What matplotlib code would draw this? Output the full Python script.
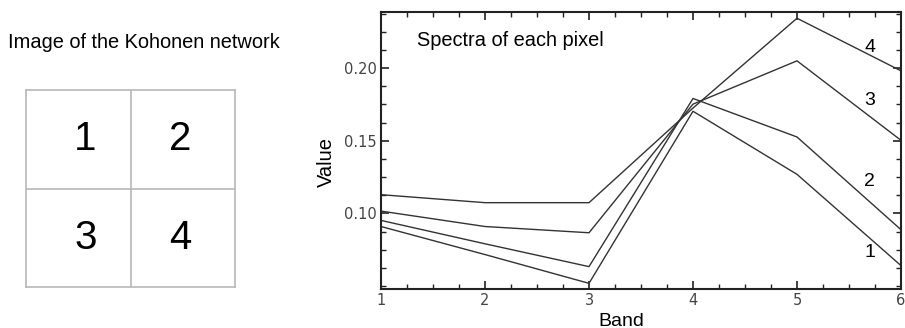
import matplotlib.pyplot as plt
from matplotlib.ticker import MultipleLocator

# spectra (band 1..6)
bands = [1, 2, 3, 4, 5, 6]
pixel1 = [0.091, 0.0717, 0.0519, 0.1703, 0.1269, 0.0641]
pixel2 = [0.0952, 0.0791, 0.0634, 0.1791, 0.1526, 0.0888]
pixel3 = [0.1016, 0.091, 0.0867, 0.1752, 0.2050, 0.1503]
pixel4 = [0.1129, 0.1074, 0.1074, 0.1725, 0.2343, 0.1981]
spectra = [pixel1, pixel2, pixel3, pixel4]
names = ["1", "2", "3", "4"]
name_y = [0.073, 0.122, 0.178, 0.2145]

plt.rcParams['font.family'] = ['Liberation Sans', 'DejaVu Sans']
fig = plt.figure(figsize=(9.05, 3.28), dpi=100)

# left: kohonen map
fig.text(8 / 905, 1 - 43 / 328, "Image of the Kohonen network", fontsize=14.4, va='center')
ax0 = fig.add_axes([26 / 905, 1 - 287 / 328, 209 / 905, 197 / 328])
ax0.set_xlim(0, 2)
ax0.set_ylim(0, 2)
ax0.set_xticks([])
ax0.set_yticks([])
for s in ax0.spines.values():
    s.set_color('#b8b8b8')
    s.set_linewidth(1.2)
ax0.axvline(1, color='#b8b8b8', lw=1.2)
ax0.axhline(1, color='#b8b8b8', lw=1.2)
cells = [(0.57, 1.5), (1.48, 1.5), (0.57, 0.5), (1.48, 0.5)]
for (cx, cy), n in zip(cells, names):
    ax0.text(cx, cy, n, fontsize=29, ha='center', va='center')

# right: spectra
ax = fig.add_axes([381 / 905, 1 - 289 / 328, 520 / 905, 277 / 328])
for vals in spectra:
    ax.plot(bands, vals, color='#333333', lw=1.0)
for n, y in zip(names, name_y):
    ax.text(5.7, y, n, fontsize=14, ha='center', va='center')
ax.text(1.35, 0.2193, "Spectra of each pixel", fontsize=14.4, va='center')

ax.set_xlim(1, 6)
ax.set_ylim(0.048, 0.2386)
ax.xaxis.set_major_locator(MultipleLocator(1))
ax.xaxis.set_minor_locator(MultipleLocator(0.25))
ax.yaxis.set_minor_locator(MultipleLocator(0.0125))
ax.set_yticks([0.10, 0.15, 0.20])
ax.set_yticklabels(["0.10", "0.15", "0.20"])
ax.tick_params(which='both', direction='in', top=True, right=True,
               labelsize=10.5, labelcolor='#444444', color='#222222')
ax.tick_params(which='major', length=6, width=1.2, pad=3)
ax.tick_params(which='minor', length=3.5, width=1.0)
for lab in ax.get_xticklabels() + ax.get_yticklabels():
    lab.set_family('DejaVu Sans')
for s in ax.spines.values():
    s.set_linewidth(1.5)
    s.set_color('#222222')
ax.set_xlabel("Band", fontsize=14, va='center')
ax.xaxis.set_label_coords((621 - 381) / 520, -(321 - 289) / 277)
ax.set_ylabel("Value", fontsize=14.5, va='center')
ax.yaxis.set_label_coords((326 - 381) / 520, (289 - 162) / 277)

fig.savefig("out.png", dpi=100)
